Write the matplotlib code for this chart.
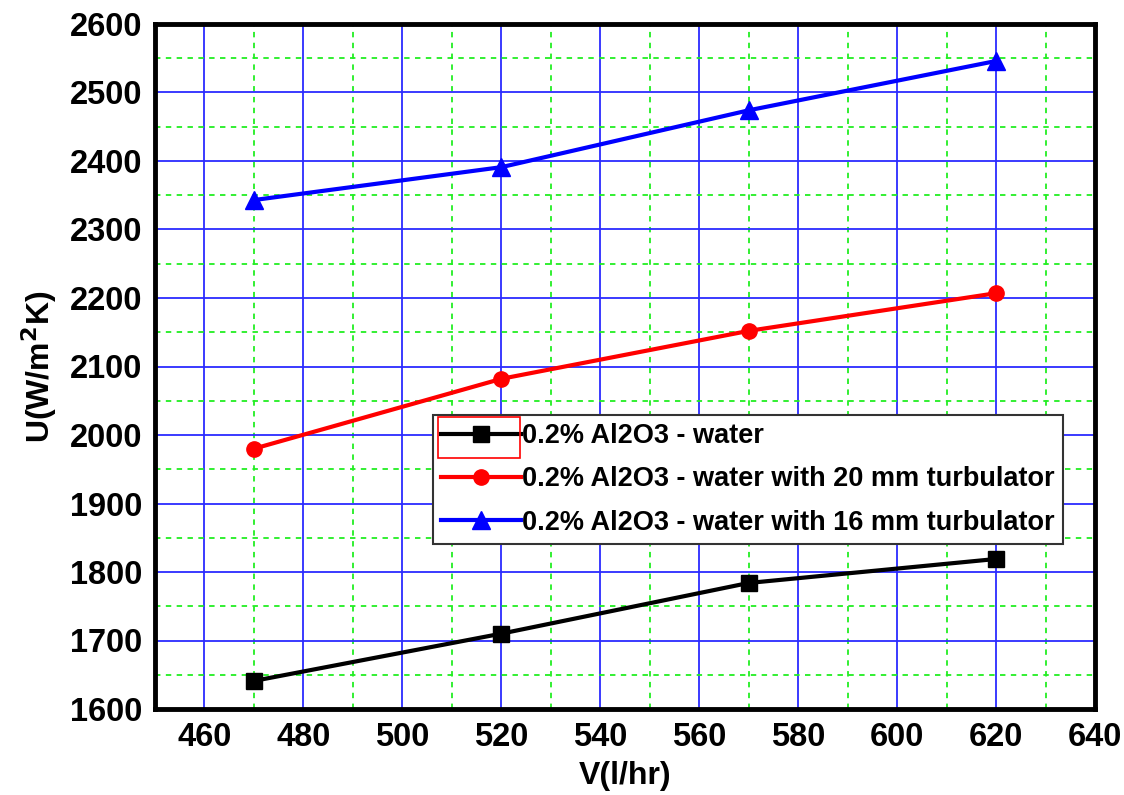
import matplotlib.pyplot as plt
from matplotlib.ticker import MultipleLocator
from matplotlib.patches import Rectangle

plt.rcParams['font.family'] = ['Liberation Sans', 'DejaVu Sans']
plt.rcParams['font.weight'] = 'bold'

# data
flow_lph = [470, 520, 570, 620]
u_water = [1641, 1710, 1784, 1819]
u_turb_20mm = [1980, 2082, 2152, 2207]
u_turb_16mm = [2343, 2391, 2474, 2546]

labels = ['0.2% Al2O3 - water',
          '0.2% Al2O3 - water with 20 mm turbulator',
          '0.2% Al2O3 - water with 16 mm turbulator']

fig = plt.figure(figsize=(11.24, 7.95), dpi=100)
ax = fig.add_axes([155 / 1124, 1 - 709 / 795, 940 / 1124, 685 / 795])

ax.plot(flow_lph, u_water, color='black', lw=3, marker='s', ms=11, label=labels[0], zorder=5)
ax.plot(flow_lph, u_turb_20mm, color='red', lw=3, marker='o', ms=11, label=labels[1], zorder=5)
ax.plot(flow_lph, u_turb_16mm, color='blue', lw=3, marker='^', ms=13, label=labels[2], zorder=5)

ax.set_xlim(450, 640)
ax.set_ylim(1600, 2600)
ax.xaxis.set_major_locator(MultipleLocator(20))
ax.xaxis.set_minor_locator(MultipleLocator(10))
ax.yaxis.set_major_locator(MultipleLocator(100))
ax.yaxis.set_minor_locator(MultipleLocator(50))

ax.grid(which='major', color='#2b2bff', lw=1.3, ls='-')
ax.grid(which='minor', color='#22ee22', lw=1.3, ls=(0, (3, 3)))
ax.set_axisbelow(True)

ax.tick_params(which='both', length=0, labelsize=23.5, pad=9)
for lbl in ax.get_xticklabels() + ax.get_yticklabels():
    lbl.set_fontweight('bold')
for s in ax.spines.values():
    s.set_linewidth(3.5)
    s.set_color('black')

ax.set_xlabel('V(l/hr)', fontsize=23, fontweight='bold', labelpad=6)
ax.set_ylabel('U(W/m$^{\\mathbf{2}}$K)', fontsize=23, fontweight='bold', labelpad=8)

leg = ax.legend(loc='upper left', bbox_to_anchor=((433 - 155) / 940, (709 - 415) / 685),
                fontsize=19.5, frameon=True, fancybox=False, edgecolor='#333333',
                framealpha=1, handlelength=2.95, handletextpad=0.05, borderpad=0.3,
                labelspacing=0.64, borderaxespad=0)
leg.get_frame().set_linewidth(1.5)
for t in leg.get_texts():
    t.set_fontweight('bold')

# selection box around the first legend handle
fig.add_artist(Rectangle((438 / 1124, 1 - 458 / 795), (520 - 438) / 1124, 41 / 795,
                         transform=fig.transFigure, fill=False, ec='red', lw=1.2, zorder=10))

fig.savefig('out.png', dpi=100)
